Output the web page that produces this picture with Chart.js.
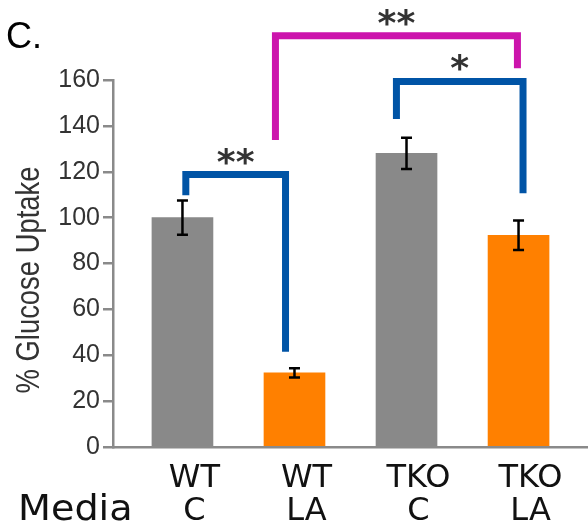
<!DOCTYPE html>
<html>
<head>
<meta charset="utf-8">
<script src="https://cdn.jsdelivr.net/npm/chart.js@4.4.1/dist/chart.umd.min.js"></script>
<style>
  html, body { margin: 0; padding: 0; background: #fff; }
  #wrap { width: 588px; height: 525px; position: relative; }
</style>
</head>
<body>
<div id="wrap"><canvas id="chart" width="588" height="525"></canvas></div>
<script>
// Groups (genotype / media) shown along the x axis
const groups = [['WT', 'C'], ['WT', 'LA'], ['TKO', 'C'], ['TKO', 'LA']];
// Mean glucose uptake (% of WT control) and its error
const uptake = [100, 32.3, 128, 92.3];
const uptakeErr = [7.5, 2, 6.8, 6.4];
// Significance brackets: ends along the group axis, bracket top and leg ends in % units
const bracketFrom = [1.03, 1.83, 2.91];
const bracketTo = [1.92, 3.99, 4.04];
const bracketTop = [118.8, 179.3, 159.4];
const bracketLeftEnd = [109.8, 133.8, 143];
const bracketRightEnd = [41.5, 165.1, 110.6];
const bracketStars = ['**', '**', '*'];

const GRAY = '#898989';
const ORANGE = '#ff8000';
const BLUE = '#0054a6';
const MAGENTA = '#cc14ac';
const AXIS = '#8a8a8a';
const SANS = "'Liberation Sans', Arial, sans-serif";

const barColors = [GRAY, ORANGE, GRAY, ORANGE];
const bracketColors = [BLUE, MAGENTA, BLUE];

const errorBars = {
  id: 'errorBars',
  afterDatasetsDraw(chart) {
    const { ctx, scales: { y } } = chart;
    const meta = chart.getDatasetMeta(0);
    ctx.save();
    ctx.strokeStyle = '#000';
    ctx.lineWidth = 2.5;
    meta.data.forEach((bar, i) => {
      const top = y.getPixelForValue(uptake[i] + uptakeErr[i]);
      const bot = y.getPixelForValue(uptake[i] - uptakeErr[i]);
      const cx = bar.x;
      ctx.beginPath();
      ctx.moveTo(cx, top); ctx.lineTo(cx, bot);
      ctx.moveTo(cx - 5.5, top); ctx.lineTo(cx + 5.5, top);
      ctx.moveTo(cx - 5.5, bot); ctx.lineTo(cx + 5.5, bot);
      ctx.stroke();
    });
    ctx.restore();
  }
};

const annotations = {
  id: 'annotations',
  afterDraw(chart) {
    const { ctx, scales: { x, y } } = chart;
    ctx.save();
    // significance brackets with their stars
    bracketFrom.forEach((from, i) => {
      const x1 = x.getPixelForValue(from);
      const x2 = x.getPixelForValue(bracketTo[i]);
      const yt = y.getPixelForValue(bracketTop[i]);
      ctx.strokeStyle = bracketColors[i];
      ctx.lineWidth = 7;
      ctx.lineJoin = 'miter';
      ctx.lineCap = 'butt';
      ctx.beginPath();
      ctx.moveTo(x1, y.getPixelForValue(bracketLeftEnd[i]));
      ctx.lineTo(x1, yt);
      ctx.lineTo(x2, yt);
      ctx.lineTo(x2, y.getPixelForValue(bracketRightEnd[i]));
      ctx.stroke();
      ctx.fillStyle = '#333';
      ctx.font = 'bold 36px "DejaVu Sans"';
      ctx.textAlign = 'center';
      ctx.textBaseline = 'alphabetic';
      ctx.fillText(bracketStars[i], (x1 + x2) / 2, yt - 1);
    });
    // y axis title, set in a condensed face
    ctx.save();
    ctx.translate(30, 280);
    ctx.rotate(-Math.PI / 2);
    ctx.scale(0.83, 1);
    ctx.fillStyle = '#333';
    ctx.font = '33px ' + SANS;
    ctx.textAlign = 'center';
    ctx.textBaseline = 'middle';
    ctx.fillText('% Glucose Uptake', 0, 0);
    ctx.restore();
    // row caption for the media line of the x labels
    ctx.save();
    ctx.translate(18, 511);
    ctx.scale(1.09, 1);
    ctx.fillStyle = '#111';
    ctx.font = '35px "DejaVu Sans"';
    ctx.textAlign = 'left';
    ctx.textBaseline = 'middle';
    ctx.fillText('Media', 0, 0);
    ctx.restore();
    // panel letter
    ctx.fillStyle = '#000';
    ctx.font = '36px ' + SANS;
    ctx.textAlign = 'left';
    ctx.textBaseline = 'alphabetic';
    ctx.fillText('C.', 6, 48);
    ctx.restore();
  }
};

new Chart(document.getElementById('chart'), {
  type: 'bar',
  data: {
    datasets: [{
      data: uptake.map((v, i) => ({ x: i + 1, y: v })),
      backgroundColor: barColors,
      borderWidth: 0,
      barThickness: 61
    }]
  },
  options: {
    responsive: false,
    animation: false,
    devicePixelRatio: 1,
    layout: { padding: { top: 80, right: 0, bottom: 0, left: 0 } },
    plugins: { legend: { display: false }, tooltip: { enabled: false } },
    scales: {
      x: {
        type: 'linear',
        min: 0.38,
        max: 4.62,
        offset: false,
        afterBuildTicks: s => { s.ticks = groups.map((g, i) => ({ value: i + 1 })); },
        afterFit: s => { s.height = 78; },
        grid: { display: false },
        border: { display: true, color: AXIS, width: 2.5 },
        ticks: {
          autoSkip: false,
          maxRotation: 0,
          padding: 7.75,
          labelOffset: 12,
          color: '#111',
          font: { family: 'DejaVu Sans', size: 32, lineHeight: 1.016 },
          callback: v => groups[v - 1]
        }
      },
      y: {
        min: 0,
        max: 160,
        afterFit: s => { s.width = 113; },
        ticks: { stepSize: 20, padding: 3, color: '#333', font: { family: SANS, size: 25 } },
        grid: { drawOnChartArea: false, drawTicks: true, tickLength: 10, color: AXIS, lineWidth: 2.5 },
        border: { color: AXIS, width: 2.5 }
      }
    }
  },
  plugins: [errorBars, annotations]
});
</script>
</body>
</html>
